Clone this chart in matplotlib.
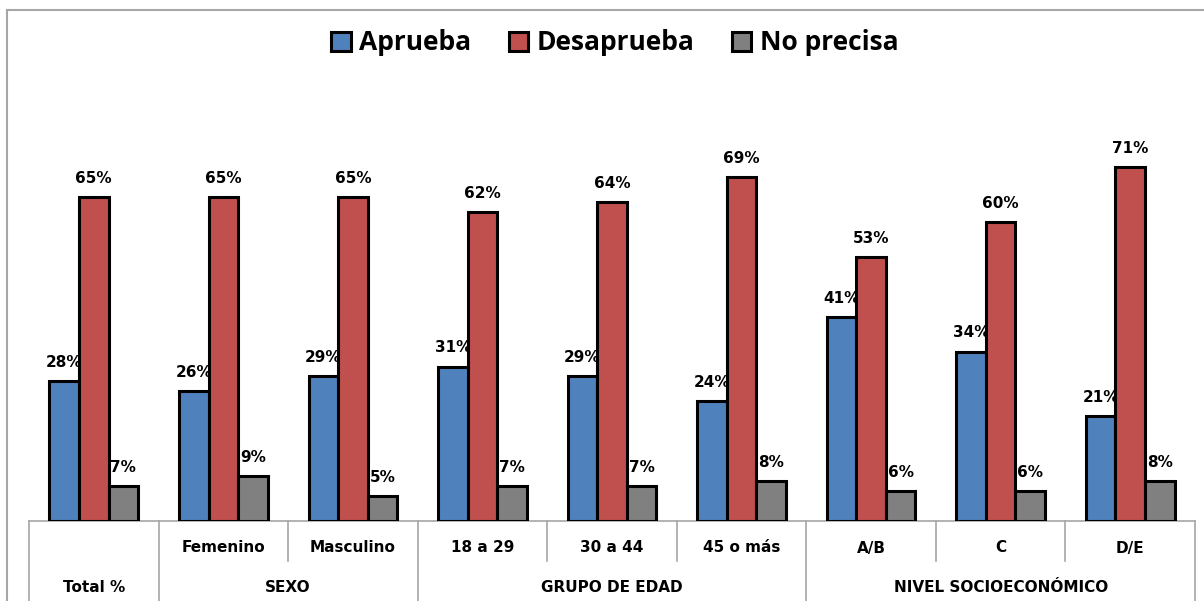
import matplotlib
matplotlib.use("Agg")
import matplotlib.pyplot as plt
import matplotlib.transforms as mtransforms
from matplotlib.lines import Line2D
import numpy as np

plt.rcParams['font.family'] = ['DejaVu Sans']
plt.rcParams['font.weight'] = 'bold'

categories = ["Total %", "Femenino", "Masculino", "18 a 29", "30 a 44", "45 o más",
              "A/B", "C", "D/E"]
groups = [("", 0, 0), ("SEXO", 1, 2), ("GRUPO DE EDAD", 3, 5), ("NIVEL SOCIOECONÓMICO", 6, 8)]
aprueba = [28, 26, 29, 31, 29, 24, 41, 34, 21]
desaprueba = [65, 65, 65, 62, 64, 69, 53, 60, 71]
no_precisa = [7, 9, 5, 7, 7, 8, 6, 6, 8]

series = [("Aprueba", aprueba, "#4F81BD"),
          ("Desaprueba", desaprueba, "#C0504D"),
          ("No precisa", no_precisa, "#808080")]

W, H = 1204, 601
fig = plt.figure(figsize=(W / 100, H / 100), dpi=100)
ax = fig.add_axes([29 / W, 80 / H, (1195 - 29) / W, (521 - 80) / H])

x = np.arange(len(categories))
bw = 0.228
for i, (name, vals, col) in enumerate(series):
    pos = x + (i - 1) * bw
    bars = ax.bar(pos, vals, bw, color=col, edgecolor="black", linewidth=2.2,
                  label=name, zorder=3)
    for b, v in zip(bars, vals):
        ax.annotate(f"{v}%", (b.get_x() + b.get_width() / 2, v),
                    xytext=(0, 8), textcoords="offset points",
                    ha="center", va="bottom", fontsize=11, fontweight="bold")

ax.set_xlim(-0.5, len(categories) - 0.5)
ax.set_ylim(0, 88.5)
ax.axis("off")

# table below the axis
tr = mtransforms.blended_transform_factory(ax.transData, ax.transAxes)
row1 = -40 / 441
row2 = -82 / 441
gray = "#A6A6A6"
ax.plot([-0.5, len(categories) - 0.5], [0, 0], transform=tr, color=gray,
        lw=1.2, clip_on=False)
group_edges = set()
for label, a, b in groups:
    group_edges.add(a - 0.5)
    group_edges.add(b + 0.5)
for k in range(len(categories) + 1):
    xe = k - 0.5
    bottom = row2 if xe in group_edges else row1
    ax.plot([xe, xe], [0, bottom], transform=tr, color=gray, lw=1.2, clip_on=False)
for i, c in enumerate(categories):
    if i == 0:
        continue
    ax.text(i, -27 / 441, c, transform=tr, ha="center", va="center",
            fontsize=11, fontweight="bold")
for label, a, b in groups:
    txt = categories[0] if label == "" else label
    ax.text((a + b) / 2, -67 / 441, txt, transform=tr,
            ha="center", va="center", fontsize=11, fontweight="bold")

# outer frame
fig.add_artist(Line2D([7 / W, 7 / W], [0, 1 - 10 / H], color=gray, lw=1.5))
fig.add_artist(Line2D([7 / W, 1], [1 - 10 / H, 1 - 10 / H], color=gray, lw=1.5))

handles, labels = ax.get_legend_handles_labels()
leg = fig.legend(handles, labels, loc="center", bbox_to_anchor=(615 / W, 1 - 43 / H),
                 ncol=3, frameon=False, handlelength=0.74,
                 handleheight=0.74, handletextpad=0.34, columnspacing=1.4,
                 prop={"family": "Open Sans", "weight": "bold", "size": 19})

fig.savefig("out.png", dpi=100)
